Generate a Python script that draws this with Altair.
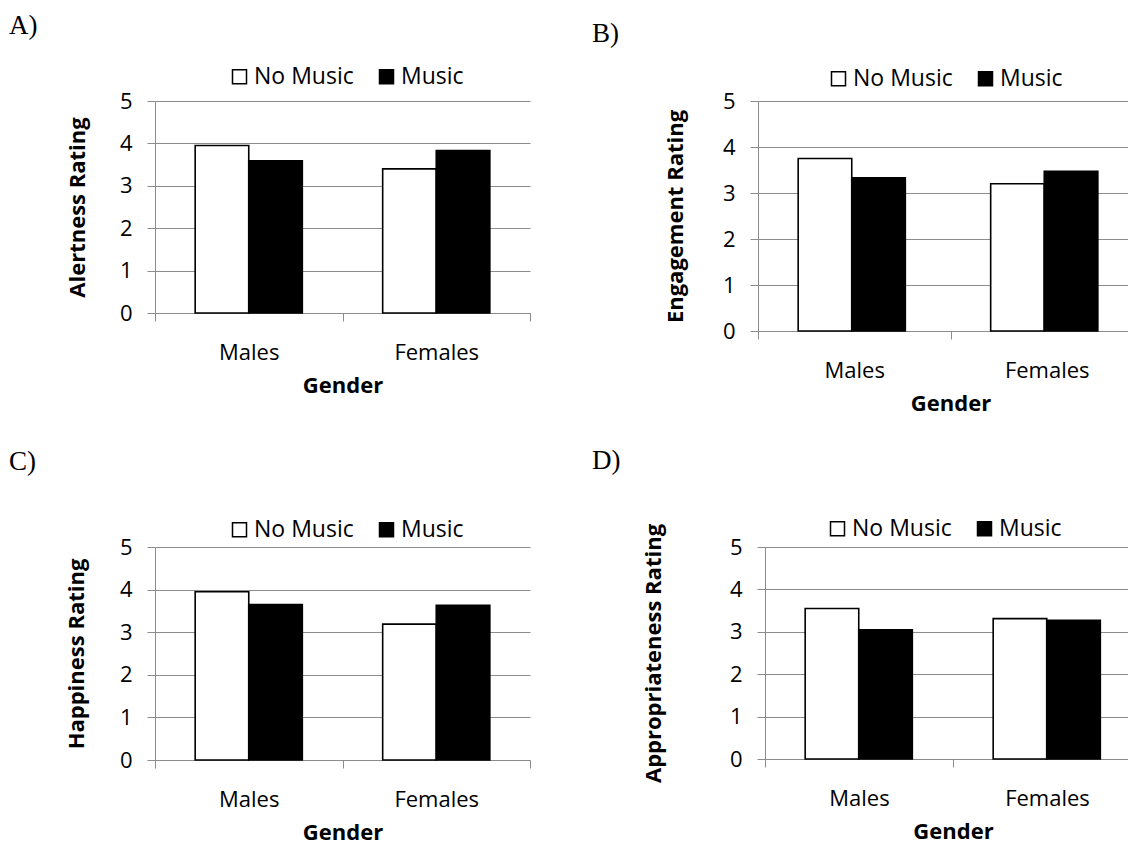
import altair as alt
import pandas as pd

genders = ["Males", "Females"]
conditions = ["No Music", "Music"]

panel_letters = ["A)", "B)", "C)", "D)"]
y_titles = ["Alertness Rating", "Engagement Rating", "Happiness Rating", "Appropriateness Rating"]

alert_no_music = [3.95, 3.40]
alert_music = [3.59, 3.83]
engage_no_music = [3.75, 3.20]
engage_music = [3.33, 3.47]
happy_no_music = [3.95, 3.19]
happy_music = [3.65, 3.63]
approp_no_music = [3.55, 3.31]
approp_music = [3.05, 3.27]

y_ticks = [0, 1, 2, 3, 4, 5]

GRID = "#8c8c8c"
FONT = "Open Sans"


def panel(letter, ytitle, nm, m, w, h, dx, title_offset, ypad, lx, ly):
    df = pd.DataFrame({
        "Gender": genders + genders,
        "Condition": [conditions[0]] * len(genders) + [conditions[1]] * len(genders),
        "Rating": list(nm) + list(m),
    })
    return alt.Chart(
        df,
        title=alt.TitleParams(text=letter, anchor="start", frame="group", dx=dx, offset=title_offset,
                              font="Liberation Serif", fontSize=27, fontWeight="normal", color="black"),
    ).mark_bar(stroke="black", strokeWidth=1.6).encode(
        x=alt.X("Gender:N", sort=genders, title="Gender",
                scale=alt.Scale(paddingInner=0, paddingOuter=0),
                axis=alt.Axis(labelAngle=0, tickBand="extent", domainColor=GRID, tickColor=GRID,
                              tickSize=8, labelPadding=21, titlePadding=12, grid=False)),
        xOffset=alt.XOffset("Condition:N", sort=conditions,
                            scale=alt.Scale(paddingInner=0, paddingOuter=0.75)),
        y=alt.Y("Rating:Q", title=ytitle, scale=alt.Scale(domain=[0, 5], nice=False),
                axis=alt.Axis(values=y_ticks, format="d", grid=True, gridColor=GRID, gridWidth=1.2,
                              domainColor=GRID, tickColor=GRID, tickSize=8, labelPadding=15,
                              titlePadding=ypad)),
        fill=alt.Fill("Condition:N", sort=conditions,
                      scale=alt.Scale(domain=conditions, range=["white", "black"]),
                      legend=alt.Legend(orient="none", legendX=lx, legendY=ly, direction="horizontal",
                                        title=None, symbolType="square", symbolSize=196,
                                        symbolStrokeColor="black", symbolStrokeWidth=1.5,
                                        labelFontSize=23, labelFont=FONT, labelColor="black",
                                        columnPadding=21, labelOffset=3, padding=0)),
    ).properties(width=w, height=h)


pA = panel(panel_letters[0], y_titles[0], alert_no_music, alert_music, 375, 212, -146, 25, 30, 73, -36)
pB = panel(panel_letters[1], y_titles[1], engage_no_music, engage_music, 385, 230, -166, 19, 35, 69, -34)
pC = panel(panel_letters[2], y_titles[2], happy_no_music, happy_music, 375, 213, -146, 42, 31, 73, -29)
pD = panel(panel_letters[3], y_titles[3], approp_no_music, approp_music, 376, 212, -173, 42, 64, 61, -30)

row1 = alt.hconcat(pA, pB, spacing=61).resolve_scale(fill="independent").resolve_legend(fill="independent")
row2 = alt.hconcat(pC, pD, spacing=61).resolve_scale(fill="independent").resolve_legend(fill="independent")

chart = alt.vconcat(row1, row2, spacing=33).resolve_scale(fill="independent").resolve_legend(
    fill="independent"
).properties(
    padding={"left": 1, "top": 4, "right": -16, "bottom": 0}
).configure(
    font=FONT
).configure_view(
    stroke=None
).configure_axis(
    labelFont=FONT, labelFontSize=22, labelColor="black",
    titleFont=FONT, titleFontSize=22, titleFontWeight="bold", titleColor="black",
)

chart.save("out.html", embed_options={"renderer": "svg", "actions": False})
